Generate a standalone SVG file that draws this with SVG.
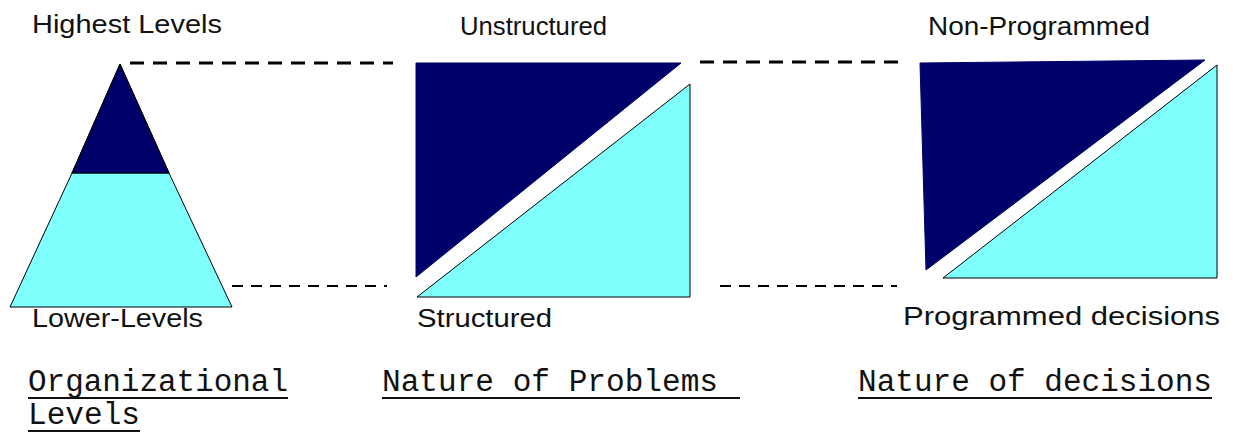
<svg xmlns="http://www.w3.org/2000/svg" width="1233" height="433" viewBox="0 0 1233 433">
<style>
.dark{fill:#00006b;stroke:#00006b;stroke-width:1}
.light{fill:#80ffff;stroke:#000;stroke-width:1}
.lbl{font-family:"Liberation Sans",Arial,sans-serif;font-size:25px;fill:#111}
.mono{font-family:"Liberation Mono","Courier New",monospace;font-size:31px;fill:#111}
.ul{stroke:#111;stroke-width:2}
.dash1{stroke:#000;stroke-width:3;stroke-dasharray:14 9;fill:none}
.dash2{stroke:#000;stroke-width:2;stroke-dasharray:11 8;fill:none}
</style>
<rect width="1233" height="433" fill="#fff"/>
<g id="connectors">
<line class="dash1" x1="130" y1="63" x2="393" y2="63"/>
<line class="dash1" x1="700" y1="62" x2="902" y2="62"/>
<line class="dash2" x1="232" y1="286" x2="387" y2="286"/>
<line class="dash2" x1="720" y1="286" x2="897" y2="286"/>
</g>
<g id="pyramid">
<polygon class="light" points="72,173 169,173 232,307 10,307"/>
<polygon class="dark" points="120,64 169,173 72,173" style="stroke:#000"/>
<polyline points="72,173 120,64 169,173" fill="none" stroke="#000" stroke-width="1"/>
<text class="lbl" x="32" y="33" textLength="190" lengthAdjust="spacingAndGlyphs">Highest Levels</text>
<text class="lbl" x="32" y="327" textLength="171" lengthAdjust="spacingAndGlyphs">Lower-Levels</text>
</g>
<g id="problems">
<polygon class="dark" points="416,63 681,63 416,277"/>
<polygon class="light" points="417,297 690,84 690,297"/>
<text class="lbl" x="460" y="35" textLength="147" lengthAdjust="spacingAndGlyphs">Unstructured</text>
<text class="lbl" x="417" y="327" textLength="135" lengthAdjust="spacingAndGlyphs">Structured</text>
</g>
<g id="decisions">
<polygon class="dark" points="920,63 1205,60 926,270"/>
<polygon class="light" points="943,278 1217,65 1217,278"/>
<text class="lbl" x="928" y="35" textLength="222" lengthAdjust="spacingAndGlyphs">Non-Programmed</text>
<text class="lbl" x="903" y="325" textLength="317" lengthAdjust="spacingAndGlyphs">Programmed decisions</text>
</g>
<g id="captions">
<text class="mono" x="28" y="391" textLength="260" lengthAdjust="spacingAndGlyphs">Organizational</text>
<line class="ul" x1="28" y1="398" x2="288" y2="398"/>
<text class="mono" x="28" y="424" textLength="112" lengthAdjust="spacingAndGlyphs">Levels</text>
<line class="ul" x1="28" y1="431" x2="140" y2="431"/>
<text class="mono" x="382" y="391" textLength="336" lengthAdjust="spacingAndGlyphs">Nature of Problems</text>
<line class="ul" x1="382" y1="398" x2="740" y2="398"/>
<text class="mono" x="858" y="391" textLength="354" lengthAdjust="spacingAndGlyphs">Nature of decisions</text>
<line class="ul" x1="858" y1="398" x2="1212" y2="398"/>
</g>
</svg>
